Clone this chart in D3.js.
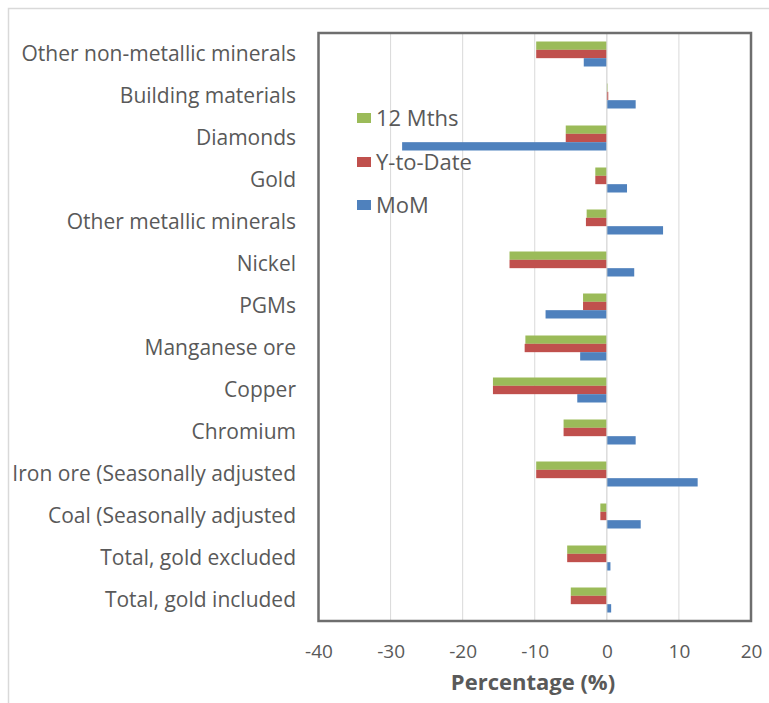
<!DOCTYPE html>
<html>
<head>
<meta charset="utf-8">
<script src="https://cdn.jsdelivr.net/npm/d3@7"></script>
<style>
  html, body { margin: 0; padding: 0; background: #fff; }
  svg { display: block; }
  text { font-family: "Open Sans", Lato, sans-serif; fill: #595959; }
</style>
</head>
<body>
<svg id="chart" width="769" height="703"></svg>
<script>
const categories = [
  "Other non-metallic minerals",
  "Building materials",
  "Diamonds",
  "Gold",
  "Other metallic minerals",
  "Nickel",
  "PGMs",
  "Manganese ore",
  "Copper",
  "Chromium",
  "Iron ore (Seasonally adjusted",
  "Coal (Seasonally adjusted",
  "Total, gold excluded",
  "Total, gold included"
];
const seriesNames = ["12 Mths", "Y-to-Date", "MoM"];
const twelveMonths = [-9.8, 0.1, -5.7, -1.6, -2.8, -13.5, -3.3, -11.3, -15.8, -6.0, -9.8, -0.9, -5.5, -5.0];
const yearToDate   = [-9.8, 0.2, -5.7, -1.6, -2.9, -13.5, -3.3, -11.4, -15.8, -6.0, -9.8, -0.9, -5.5, -5.0];
const monthOnMonth = [-3.2, 4.0, -28.4, 2.8, 7.8, 3.8, -8.5, -3.7, -4.1, 4.0, 12.6, 4.7, 0.5, 0.6];
const xTicks = [-40, -30, -20, -10, 0, 10, 20];
const colors = ["#9BBB59", "#C0504D", "#4F81BD"];

const seriesValues = [twelveMonths, yearToDate, monthOnMonth];

const svg = d3.select("#chart");

// outer chart-area border (light)
svg.append("path")
  .attr("d", "M8.5,703 L8.5,8.5 L769,8.5")
  .attr("fill", "none").attr("stroke", "#d9d9d9").attr("stroke-width", 1.5);

const plot = { left: 318.5, right: 751, top: 33, bottom: 621 };

const x = d3.scaleLinear().domain([-40, 20]).range([plot.left, plot.right]);
const y = d3.scaleBand().domain(categories).range([plot.top, plot.bottom]);
const inner = d3.scaleBand().domain(seriesNames).range([0, 25]);
const barOffset = (y.bandwidth() - 25) / 2;

// gridlines
svg.append("g").selectAll("line").data(xTicks.filter(t => t !== -40 && t !== 20)).join("line")
  .attr("x1", d => x(d)).attr("x2", d => x(d))
  .attr("y1", plot.top).attr("y2", plot.bottom)
  .attr("stroke", "#d9d9d9").attr("stroke-width", 1);

// bars
seriesNames.forEach((s, si) => {
  svg.append("g").selectAll("rect").data(categories).join("rect")
    .attr("x", (c, i) => x(Math.min(0, seriesValues[si][i])))
    .attr("width", (c, i) => Math.abs(x(seriesValues[si][i]) - x(0)))
    .attr("y", c => y(c) + barOffset + inner(s))
    .attr("height", inner.bandwidth())
    .attr("fill", colors[si]);
});

// zero line
svg.append("line")
  .attr("x1", x(0)).attr("x2", x(0)).attr("y1", plot.top).attr("y2", plot.bottom)
  .attr("stroke", "#d9d9d9").attr("stroke-width", 1);

// plot frame
svg.append("rect")
  .attr("x", plot.left).attr("y", plot.top)
  .attr("width", plot.right - plot.left).attr("height", plot.bottom - plot.top)
  .attr("fill", "none").attr("stroke", "#6e6e6e").attr("stroke-width", 2.5);

// category labels
svg.append("g").selectAll("text").data(categories).join("text")
  .attr("x", 296)
  .attr("y", c => y(c) + y.bandwidth() / 2)
  .attr("dy", "0.35em")
  .attr("text-anchor", "end")
  .attr("font-size", 21)
  .text(c => c);

// x tick labels
const xAxis = svg.append("g").attr("transform", `translate(0,${plot.bottom})`)
  .call(d3.axisBottom(x).tickValues(xTicks).tickSize(0).tickPadding(24).tickFormat(d => String(d)));
xAxis.select(".domain").remove();
xAxis.selectAll("text").attr("font-size", 19).attr("fill", "#595959")
  .style("font-family", "'Open Sans', Lato, sans-serif");

// axis title
svg.append("text")
  .attr("x", 533)
  .attr("y", 682)
  .attr("dy", "0.35em")
  .attr("text-anchor", "middle")
  .attr("font-size", 22).attr("font-weight", "bold")
  .text("Percentage (%)");

// legend
const legendY = [118, 162, 205];
const legend = svg.append("g");
seriesNames.forEach((s, i) => {
  legend.append("rect").attr("x", 357).attr("y", legendY[i] - 5).attr("width", 14).attr("height", 10).attr("fill", colors[i]);
  legend.append("text").attr("x", 376).attr("y", legendY[i]).attr("dy", "0.35em")
    .attr("font-size", 22).text(s);
});
</script>
</body>
</html>
